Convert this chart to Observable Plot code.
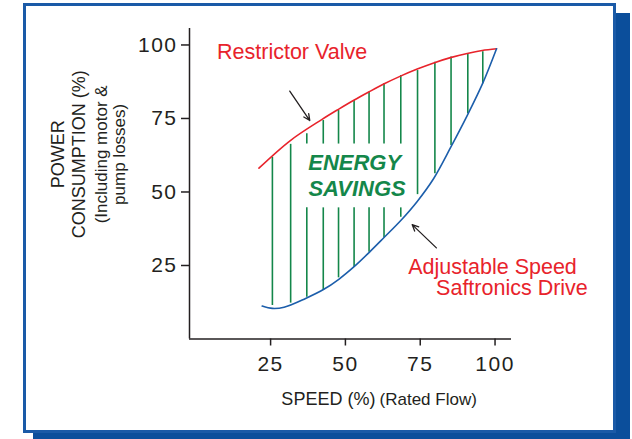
<!DOCTYPE html>
<html><head><meta charset="utf-8">
<script src="https://cdn.jsdelivr.net/npm/d3@7"></script>
<script src="https://cdn.jsdelivr.net/npm/@observablehq/plot@0.6"></script>
<style>
html,body{margin:0;padding:0;background:#fff;}
#wrap{position:relative;width:632px;height:439px;overflow:hidden;}
#shadow{position:absolute;left:33px;top:13px;width:597px;height:426px;background:#0b4e9b;}
#box{position:absolute;left:23px;top:3px;width:593px;height:430px;box-sizing:border-box;border:3px solid #1a5aa7;background:#fff;}
#chart{position:absolute;left:0;top:0;}
#chart svg{background:transparent !important;overflow:visible;}
g[aria-label="x-axis tick label"] text, g[aria-label="y-axis tick label"] text{letter-spacing:1.5px;}
</style></head><body>
<div id="wrap"><div id="shadow"></div><div id="box"></div><div id="chart"></div></div>
<script>
// ---- data ----
const xTicks = [25, 50, 75, 100];
const yTicks = [25, 50, 75, 100];

// Restrictor Valve curve (speed %, power %)
const redX = [21.1, 31.6, 42.2, 47.8, 52.8, 57.8, 62.8, 68.4, 74.0, 79.5, 85.1, 90.7, 95.7, 100.5];
const redY = [58.1, 67.5, 74.7, 78.2, 81.2, 84.0, 86.7, 89.4, 91.8, 93.9, 95.7, 97.1, 98.1, 98.7];

// Adjustable speed drive curve
const blueX = [22.2, 25.6, 29.5, 36.7, 42.8, 47.9, 52.9, 57.9, 62.9, 68.5, 74.0, 79.5, 85.3, 90.9, 95.9, 100.5];
const blueY = [11.2, 10.4, 10.8, 13.8, 16.9, 20.4, 24.6, 29.4, 34.5, 40.3, 46.8, 54.6, 65.4, 76.4, 87.0, 98.7];

// Energy-savings hatch lines
const hatchX      = [25.6, 31.7, 37.1, 42.6, 47.7, 52.9, 57.9, 62.9, 68.5, 74.1, 79.9, 85.3, 90.9, 95.9];
const hatchTop    = [61.8, 66.2, 69.8, 74.3, 77.7, 81.1, 83.9, 86.8, 89.6, 91.3, 94.1, 95.9, 97.1, 97.7];
const hatchBottom = [11.4, 12.2, 14.2, 16.5, 20.8, 24.4, 29.5, 34.4, 41.4, 49.1, 56.2, 65.8, 76.6, 86.8];
const gapTop      = [null, null, 66.3, 66.3, 66.3, 66.3, 66.3, 66.3, 66.3, null, null, null, null, null];
const gapBottom   = [null, null, 44.6, 44.6, 44.6, 44.6, 44.6, 44.6, 44.6, null, null, null, null, null];

// Annotation arrows
const arrowX1 = [31.4, 80.4];
const arrowY1 = [84.3, 31.0];
const arrowX2 = [38.1, 72.3];
const arrowY2 = [74.3, 38.9];

// Annotation labels
const redLabels = ["Restrictor Valve", "Adjustable Speed", "Saftronics Drive"];
const redLabelX = [7.1, 71.0, 80.3];
const redLabelY = [95.1, 22.2, 14.8];

const greenLabels = ["ENERGY", "SAVINGS"];
const greenLabelX = [53.1, 53.9];
const greenLabelY = [57.5, 48.8];

// Axis titles
const yTitleMain = ["POWER", "CONSUMPTION (%)"];
const yTitleMainX = [-44.1, -36.9];
const yTitleSub = ["(Including motor &", "pump losses)"];
const yTitleSubX = [-29.8, -23.8];
const yTitleY = 62.8;
const xTitleMain = ["SPEED (%)"];
const xTitleSub = ["(Rated Flow)"];
const xTitleMainX = 28.6, xTitleSubX = 61.4, xTitleY = -22.4;

const X0 = -2.1, X1 = 105.5, Y0 = 0, Y1 = 105.6;

// ---- build ----
const FONT = "'Liberation Sans', Arial, Helvetica, sans-serif";
const RED = "#e8232b", BLUE = "#1c5eab", GREEN = "#14874a", INK = "#231f20";

const segs = [];
hatchX.forEach((x, i) => {
  if (gapTop[i] == null) segs.push({x, y1: hatchTop[i], y2: hatchBottom[i]});
  else {
    segs.push({x, y1: hatchTop[i], y2: gapTop[i]});
    segs.push({x, y1: gapBottom[i], y2: hatchBottom[i]});
  }
});
const red = redX.map((x, i) => ({x, y: redY[i]}));
const blue = blueX.map((x, i) => ({x, y: blueY[i]}));
const arrows = arrowX1.map((x, i) => ({x1: x, y1: arrowY1[i], x2: arrowX2[i], y2: arrowY2[i]}));
const redLab = redLabels.map((t, i) => ({t, x: redLabelX[i], y: redLabelY[i]}));
const greenLab = greenLabels.map((t, i) => ({t, x: greenLabelX[i], y: greenLabelY[i]}));
const yMain = yTitleMain.map((t, i) => ({t, x: yTitleMainX[i], y: yTitleY}));
const ySub = yTitleSub.map((t, i) => ({t, x: yTitleSubX[i], y: yTitleY}));

const chart = Plot.plot({
  width: 632, height: 439,
  marginLeft: 189, marginRight: 121, marginTop: 28, marginBottom: 100.5,
  x: {domain: [X0, X1], axis: null},
  y: {domain: [Y0, Y1], axis: null},
  style: {background: "transparent", fontFamily: FONT, color: INK, overflow: "visible"},
  marks: [
    Plot.ruleX(segs, {x: "x", y1: "y1", y2: "y2", stroke: GREEN, strokeWidth: 1.6}),
    Plot.line(red, {x: "x", y: "y", stroke: RED, strokeWidth: 1.6, curve: "catmull-rom"}),
    Plot.line(blue, {x: "x", y: "y", stroke: BLUE, strokeWidth: 1.6, curve: "catmull-rom"}),
    Plot.ruleY([Y0], {stroke: INK, strokeWidth: 1.5}),
    Plot.ruleX([X0], {stroke: INK, strokeWidth: 1.5}),
    Plot.axisX(xTicks, {tickSize: 7, tickPadding: 10.5, fontSize: 21, stroke: INK, fill: INK, strokeWidth: 1.5}),
    Plot.axisY(yTicks, {tickSize: 8, tickPadding: 4, fontSize: 21, stroke: INK, fill: INK, strokeWidth: 1.5}),
    Plot.arrow(arrows, {x1: "x1", y1: "y1", x2: "x2", y2: "y2", stroke: INK, strokeWidth: 1.3, headLength: 8, headAngle: 50}),
    Plot.text(redLab, {x: "x", y: "y", text: "t", fill: RED, fontSize: 21.5, textAnchor: "start", lineAnchor: "bottom"}),
    Plot.text(greenLab, {x: "x", y: "y", text: "t", fill: GREEN, fontSize: 22, fontWeight: "bold", fontStyle: "italic", textAnchor: "middle", lineAnchor: "bottom"}),
    Plot.text(yMain, {x: "x", y: "y", text: "t", fill: INK, fontSize: 18, rotate: -90, textAnchor: "middle", lineAnchor: "bottom"}),
    Plot.text(ySub, {x: "x", y: "y", text: "t", fill: INK, fontSize: 17, rotate: -90, textAnchor: "middle", lineAnchor: "bottom"}),
    Plot.text(xTitleMain, {x: xTitleMainX, y: xTitleY, text: d => d, fill: INK, fontSize: 18, textAnchor: "start", lineAnchor: "bottom"}),
    Plot.text(xTitleSub, {x: xTitleSubX, y: xTitleY, text: d => d, fill: INK, fontSize: 17, textAnchor: "start", lineAnchor: "bottom"})
  ]
});
document.getElementById("chart").appendChild(chart);
</script>
</body></html>
